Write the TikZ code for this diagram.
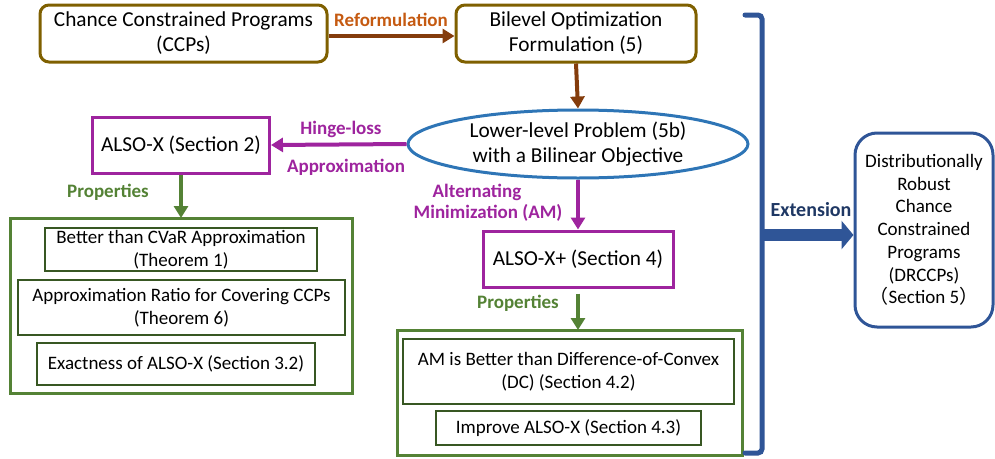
\documentclass[tikz,border=0pt]{standalone}
\usepackage{fontspec}
\setmainfont{Carlito}
\newfontfamily\cjkf{Noto Sans CJK SC}
\usetikzlibrary{arrows.meta,shapes.geometric,positioning}
\definecolor{olivebr}{RGB}{127,96,0}
\definecolor{orangelab}{RGB}{197,90,17}
\definecolor{brownar}{RGB}{132,60,12}
\definecolor{ellblue}{RGB}{46,117,182}
\definecolor{purp}{RGB}{158,36,158}
\definecolor{grn}{RGB}{84,130,53}
\definecolor{dgrn}{RGB}{56,87,35}
\definecolor{navyb}{RGB}{47,85,151}
\definecolor{navyt}{RGB}{31,56,100}
\tikzset{
  base/.style={align=center, inner sep=0pt, font=\fontsize{21.3}{25}\selectfont},
  topbox/.style={base, draw=olivebr, line width=3pt, rounded corners=9pt},
  purbox/.style={base, draw=purp, line width=3pt},
  outerg/.style={draw=grn, line width=3pt},
  innerg/.style={base, draw=dgrn, line width=1.5pt, font=\fontsize{19}{23}\selectfont},
  lab/.style={font=\bfseries\fontsize{19}{22}\selectfont, inner sep=0pt},
  brarrow/.style={draw=brownar, line width=4pt, -{Triangle[width=14pt,length=12pt]}},
  purarrow/.style={draw=purp, line width=4pt, -{Triangle[width=14pt,length=12pt]}},
  grarrow/.style={draw=grn, line width=4pt, -{Triangle[width=14pt,length=12pt]}},
}
\begin{document}
\begin{tikzpicture}[x=1pt,y=-1pt]
\useasboundingbox (0,0) rectangle (995,458);
% top boxes
\node[topbox, minimum width=287pt, minimum height=57pt] (ccp) at (183.5,33.5) {Chance Constrained Programs\\(CCPs)};
\node[topbox, minimum width=240pt, minimum height=57pt] (bil) at (576,33.5) {Bilevel Optimization\\Formulation (5)};
% ellipse
\node[base, ellipse, draw=ellblue, line width=3pt, minimum width=340pt, minimum height=68pt] (ell) at (578,144) {Lower-level Problem (5b)\\with a Bilinear Objective};
% ALSO-X
\node[purbox, minimum width=177pt, minimum height=56pt] (ax) at (181,145) {ALSO-X (Section 2)};
% left properties
\draw[outerg] (10,218) rectangle (352,393);
\coordinate (lo) at (181,218);
\node[innerg, minimum width=272pt, minimum height=43pt] (l1) at (181,249.5) {Better than CVaR Approximation\\(Theorem 1)};
\node[innerg, minimum width=327pt, minimum height=55pt] (l2) at (181.5,307.5) {Approximation Ratio for Covering CCPs\\(Theorem 6)};
\node[innerg, minimum width=278pt, minimum height=42pt] (l3) at (176,364) {Exactness of ALSO-X (Section 3.2)};
% ALSO-X+
\node[purbox, minimum width=190pt, minimum height=56pt] (axp) at (578,259) {ALSO-X+ (Section 4)};
% right properties
\draw[outerg] (397,330) rectangle (742,455);
\coordinate (ro) at (578,330);
\node[innerg, minimum width=331pt, minimum height=65pt] (r1) at (568.5,371.5) {AM is Better than Difference-of-Convex\\(DC) (Section 4.2)};
\node[innerg, minimum width=265pt, minimum height=34pt] (r2) at (568.5,428) {Improve ALSO-X (Section 4.3)};
% DRCCP
\node[base, draw=navyb, line width=3pt, rounded corners=22pt, minimum width=138pt, minimum height=194pt, font=\fontsize{19}{22.7}\selectfont] (dr) at (924,230) {Distributionally\\Robust\\Chance\\Constrained\\Programs\\(DRCCPs)\\{\cjkf （}Section 5{\cjkf ）}};
% bracket
\coordinate (bt) at (745,15);
\coordinate (bb) at (745,453);
\coordinate (bm) at (762,235);
\draw[navyb, line width=5pt, line cap=round, rounded corners=4pt] (bt) -- (762,15) -- (762,453) -- (bb);
\draw[navyb, line width=12pt, -{Triangle[width=28pt,length=12pt]}] (bm) -- (dr.west |- bm);
\node[lab, text=navyt, font=\bfseries\fontsize{20}{24}\selectfont] at (811,210) {Extension};
% arrows
\draw[brarrow] (ccp.east |- 0,36) -- (bil.west |- 0,36);
\node[lab, text=orangelab] at (391,20) {Reformulation};
\draw[brarrow] (bil.south) -- (ell.north);
\draw[purarrow] (ell.west) -- (ax.east);
\node[lab, text=purp] at (341,129) {Hinge-loss};
\node[lab, text=purp] at (346,167) {Approximation};
\draw[grarrow] (ax.south) -- (lo);
\node[lab, text=grn] at (108,192) {Properties};
\draw[purarrow] (ell.south) -- (axp.north);
\node[lab, text=purp] at (477,192) {Alternating};
\node[lab, text=purp] at (488,213) {Minimization (AM)};
\draw[grarrow, shorten <=5pt] (axp.south) -- (ro);
\node[lab, text=grn] at (518,303) {Properties};
\end{tikzpicture}
\end{document}
